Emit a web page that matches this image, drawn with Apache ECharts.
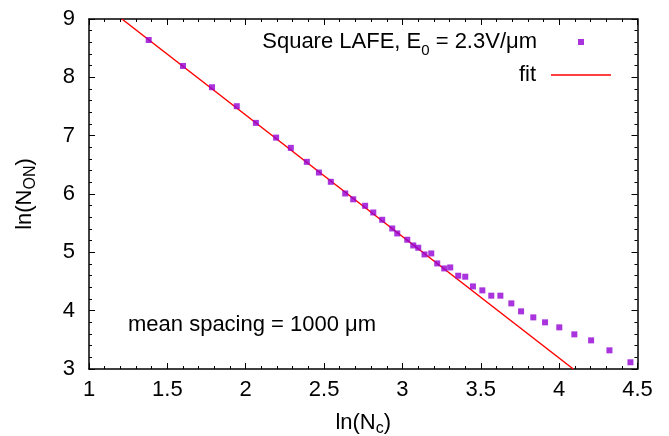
<!DOCTYPE html>
<html>
<head>
<meta charset="utf-8">
<script src="https://cdn.jsdelivr.net/npm/echarts@6/dist/echarts.min.js"></script>
<style>html,body{margin:0;padding:0;background:#fff}#c{width:669px;height:436px}</style>
</head>
<body>
<div id="c"></div>
<script>
// ln(Nc) values of measured points
const xVals = [1.381, 1.600, 1.785, 1.943, 2.065, 2.194, 2.288, 2.390, 2.467, 2.543,
  2.635, 2.686, 2.762, 2.814, 2.871, 2.935, 2.967, 3.031, 3.069, 3.101,
  3.141, 3.184, 3.222, 3.267, 3.305, 3.356, 3.401, 3.450, 3.510, 3.567,
  3.625, 3.695, 3.757, 3.835, 3.910, 4.001, 4.097, 4.204, 4.321, 4.455];
// ln(N_ON) values of measured points
const yVals = [8.640, 8.195, 7.830, 7.505, 7.219, 6.967, 6.791, 6.551, 6.368, 6.209,
  6.009, 5.909, 5.798, 5.683, 5.558, 5.409, 5.324, 5.216, 5.118, 5.079,
  4.964, 4.981, 4.810, 4.724, 4.741, 4.599, 4.582, 4.416, 4.348, 4.257,
  4.257, 4.125, 3.988, 3.885, 3.800, 3.714, 3.594, 3.491, 3.320, 3.115];
// fit line endpoints
const fitX = [1.21, 4.09];
const fitY = [9, 3];
const xTicks = {min: 1, max: 4.5, step: 0.5};
const yTicks = {min: 3, max: 9, step: 1};
const seriesNames = ['Square LAFE, E0 = 2.3V/μm', 'fit'];

const FONT = 'Liberation Sans';
const chart = echarts.init(document.getElementById('c'), null, {renderer: 'canvas'});

function axisCommon(showLabel) {
  return {
    axisLine: {show: true, onZero: false, lineStyle: {color: '#000', width: 1.5}},
    axisTick: {show: true, inside: true, length: 6, lineStyle: {color: '#000', width: 1}},
    minorTick: {show: true, splitNumber: 5, length: 3, lineStyle: {color: '#000', width: 1}},
    splitLine: {show: false},
    minorSplitLine: {show: false},
    axisLabel: {show: showLabel, color: '#000', fontSize: 22, fontFamily: FONT}
  };
}

const option = {
  animation: false,
  backgroundColor: '#fff',
  grid: {left: 89, right: 31.5, top: 19, bottom: 67, containLabel: false, outerBoundsMode: 'none'},
  xAxis: [
    Object.assign({
      type: 'value', min: xTicks.min, max: xTicks.max, interval: xTicks.step, position: 'bottom',
      name: 'ln(N{s|c})', nameLocation: 'middle', nameGap: 40,
      nameTextStyle: {color: '#000', fontSize: 22, fontFamily: FONT,
        rich: {s: {fontSize: 16, fontFamily: FONT, color: '#000', padding: [12, 0, 0, 0]}}}
    }, axisCommon(true), {axisLabel: {show: true, color: '#000', fontSize: 22, fontFamily: FONT, margin: 10}}),
    Object.assign({
      type: 'value', min: xTicks.min, max: xTicks.max, interval: xTicks.step, position: 'top'
    }, axisCommon(false))
  ],
  yAxis: [
    Object.assign({
      type: 'value', min: yTicks.min, max: yTicks.max, interval: yTicks.step, position: 'left',
      name: 'ln(N{s|ON})', nameLocation: 'middle', nameGap: 50,
      nameTextStyle: {color: '#000', fontSize: 22, fontFamily: FONT,
        rich: {s: {fontSize: 16, fontFamily: FONT, color: '#000', padding: [12, 0, 0, 0]}}}
    }, axisCommon(true), {axisLabel: {show: true, color: '#000', fontSize: 22, fontFamily: FONT, margin: 14}}),
    Object.assign({
      type: 'value', min: yTicks.min, max: yTicks.max, interval: yTicks.step, position: 'right'
    }, axisCommon(false))
  ],
  legend: [
    {
      data: [{name: seriesNames[0], icon: 'rect'}],
      right: 85, top: 31, padding: 0, align: 'right', selectedMode: false,
      itemWidth: 6, itemHeight: 6,
      formatter: function () { return '{t|Square LAFE, E}{s|0}{t| = 2.3V/μm}{g|}'; },
      textStyle: {color: '#000', fontSize: 22, fontFamily: FONT,
        rich: {
          t: {fontSize: 22, fontFamily: FONT, color: '#000'},
          s: {fontSize: 15, fontFamily: FONT, color: '#000', padding: [18, 0, 0, 0]},
          g: {width: 36}
        }}
    },
    {
      data: [{name: seriesNames[1], icon: 'rect'}],
      right: 58, top: 64, padding: 0, align: 'right', selectedMode: false,
      itemWidth: 60, itemHeight: 1.5,
      formatter: function (n) { return '{t|' + n + '}{g|}'; },
      textStyle: {color: '#000', fontSize: 22, fontFamily: FONT,
        rich: {t: {fontSize: 22, fontFamily: FONT, color: '#000'}, g: {width: 10}}}
    }
  ],
  graphic: [{
    type: 'text', left: 128, top: 314,
    style: {text: 'mean spacing = 1000 μm', fill: '#000', font: '22px "Liberation Sans"'}
  }],
  series: [
    {
      name: seriesNames[0], type: 'scatter', symbol: 'rect', symbolSize: 6,
      itemStyle: {color: '#9400d3'},
      data: xVals.map((x, i) => [x, yVals[i]]),
      z: 3
    },
    {
      name: seriesNames[1], type: 'line', symbol: 'none', showSymbol: false,
      lineStyle: {color: '#ff0000', width: 1.5},
      itemStyle: {color: '#ff0000'},
      data: fitX.map((x, i) => [x, fitY[i]]),
      z: 2
    }
  ]
};
chart.setOption(option);
</script>
</body>
</html>
